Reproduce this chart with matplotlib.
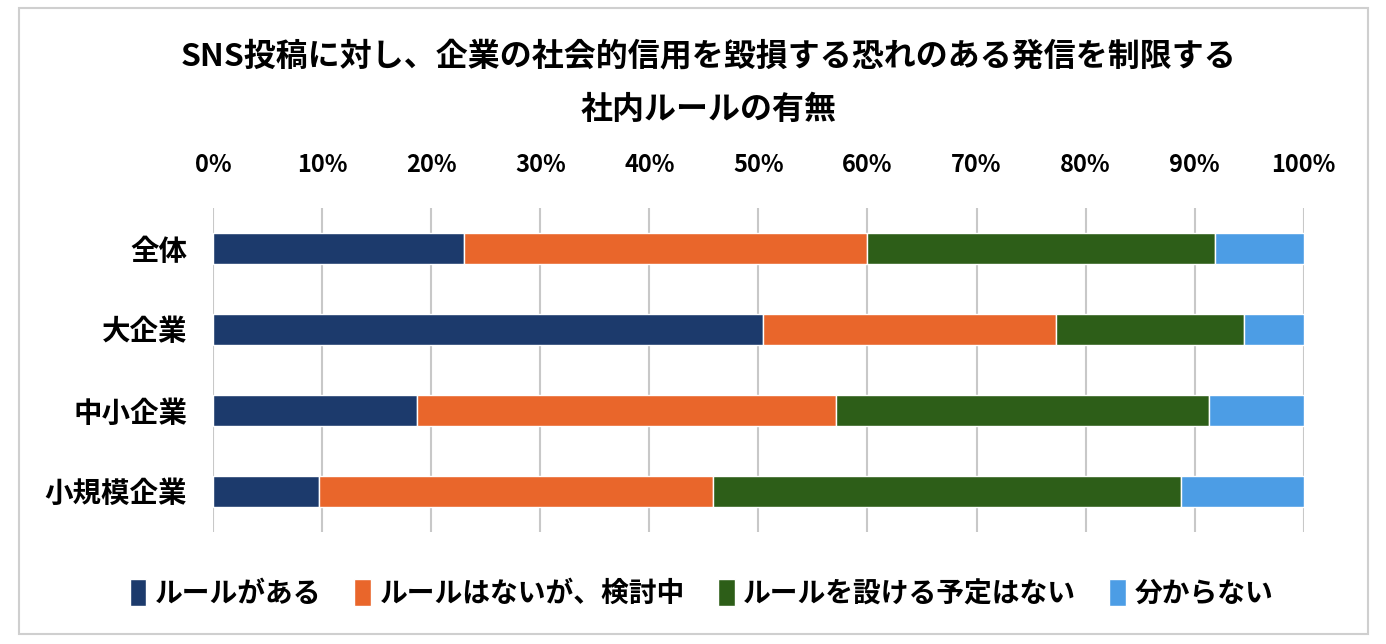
import numpy as np
import matplotlib
matplotlib.use('Agg')
import matplotlib.pyplot as plt
from matplotlib.patches import Rectangle

plt.rcParams['font.family'] = ['Noto Sans CJK JP', 'DejaVu Sans']
plt.rcParams['font.weight'] = 'bold'

# データ
categories = ['全体', '大企業', '中小企業', '小規模企業']
series_names = ['ルールがある', 'ルールはないが、検討中', 'ルールを設ける予定はない', '分からない']
rule_yes = [23.0, 50.4, 18.7, 9.7]
rule_considering = [37.0, 26.9, 38.4, 36.1]
rule_no_plan = [31.9, 17.2, 34.2, 43.0]
unknown = [8.1, 5.5, 8.7, 11.2]
colors = ['#1c3a6c', '#e9662b', '#2d5e18', '#4c9de5']
title = 'SNS投稿に対し、企業の社会的信用を毀損する恐れのある発信を制限する\n社内ルールの有無'

fig = plt.figure(figsize=(13.86, 6.44), dpi=100)
ax = fig.add_axes([0.154, 0.174, 0.7865, 0.503])

y = np.arange(len(categories))
left = np.zeros(len(categories))
for vals, name, c in zip([rule_yes, rule_considering, rule_no_plan, unknown], series_names, colors):
    ax.barh(y, vals, left=left, height=0.385, color=c, edgecolor='white', linewidth=1, label=name, zorder=3)
    left += np.array(vals)

ax.set_xlim(0, 100)
ax.set_ylim(len(categories) - 0.5, -0.5)
ax.set_yticks(y)
ax.set_yticklabels(categories, fontsize=20.5, fontweight='bold')
ax.set_xticks(np.arange(0, 101, 10))
ax.set_xticklabels([f'{v}%' for v in range(0, 101, 10)], fontsize=17, fontweight='bold')
ax.xaxis.tick_top()
ax.tick_params(axis='x', length=0, pad=22)
ax.tick_params(axis='y', length=0, pad=19)
for s in ax.spines.values():
    s.set_visible(False)
ax.grid(axis='x', color='#c8c8c8', linewidth=1.5, zorder=0)

fig.text(0.511, 0.871, title, ha='center', va='center', fontsize=23, fontweight='bold',
         linespacing=1.85)

fig.legend(loc='center', bbox_to_anchor=(0.506, 0.078), ncol=4, frameon=False,
           handlelength=0.6, handleheight=1.1, handletextpad=0.3,
           columnspacing=1.2, prop={'weight': 'bold', 'size': 20})

fig.patches.append(Rectangle((19 / 1386, 1 - 634 / 644), (1368 - 19) / 1386, (634 - 8) / 644,
                             transform=fig.transFigure, fill=False, edgecolor='#cfcfcf', linewidth=1.5))

fig.savefig('out.png', dpi=100, facecolor='white')
